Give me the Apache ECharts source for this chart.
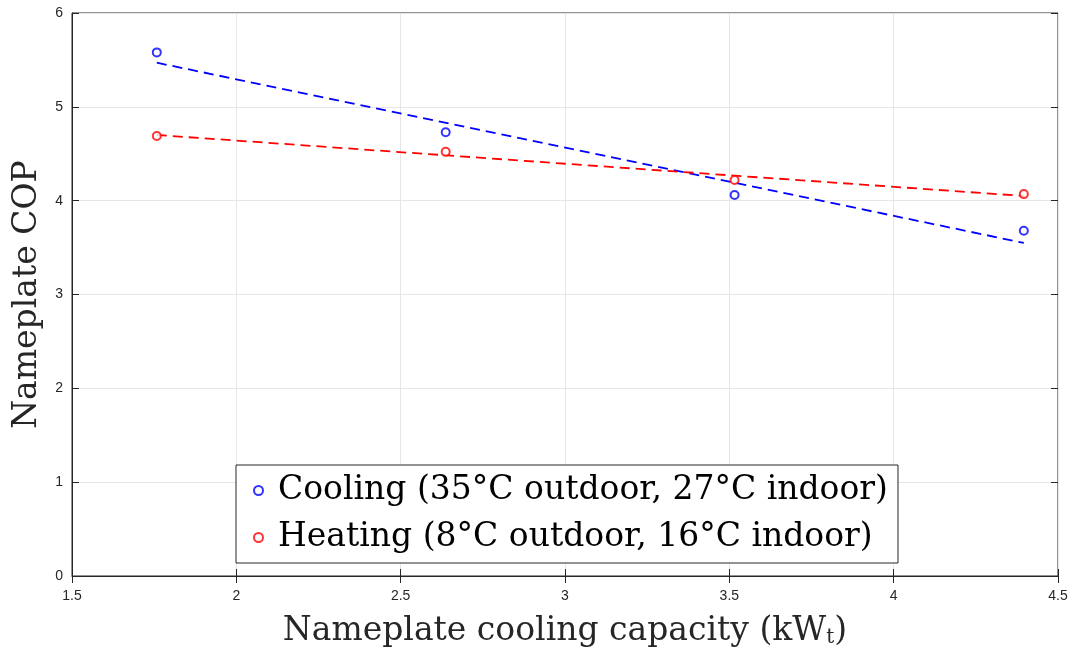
<!DOCTYPE html>
<html><head><meta charset="utf-8">
<script src="https://cdn.jsdelivr.net/npm/echarts@6/dist/echarts.min.js"></script>
<style>html,body{margin:0;padding:0;background:#fff}#c{width:1076px;height:651px}</style>
</head><body><div id="c"></div>
<script>
const capacity = [1.758, 2.637, 3.516, 4.396];
const coolingCOP = [5.58, 4.73, 4.06, 3.68];
const heatingCOP = [4.69, 4.52, 4.22, 4.07];
const fitX = [1.758, 4.396];
const coolingFit = [5.47, 3.55];
const heatingFit = [4.70, 4.05];
const xTicks = [1.5, 2, 2.5, 3, 3.5, 4, 4.5];
const yTicks = [0, 1, 2, 3, 4, 5, 6];

const pairs = (xs, ys) => xs.map((x, i) => [x, ys[i]]);
const serif = 'DejaVu Serif';
const tickFont = {fontFamily: 'Liberation Sans', fontSize: 14, color: '#262626'};
const chart = echarts.init(document.getElementById('c'));
const baseX = {type: 'value', min: xTicks[0], max: xTicks[xTicks.length - 1], interval: 0.5};
const baseY = {type: 'value', min: yTicks[0], max: yTicks[yTicks.length - 1], interval: 1};
chart.setOption({
  animation: false,
  grid: {left: 72, right: 18, top: 13, bottom: 75, show: true, borderColor: '#262626', borderWidth: 1,
         containLabel: false, outerBoundsMode: 'none'},
  legend: {
    data: ['Cooling (35°C outdoor, 27°C indoor)', 'Heating (8°C outdoor, 16°C indoor)'],
    orient: 'vertical', left: 236, top: 465,
    backgroundColor: '#fff', borderColor: '#262626', borderWidth: 1,
    padding: [9, 10, 9, 17], itemGap: 14, itemWidth: 9, itemHeight: 9,
    textStyle: {fontFamily: serif, fontSize: 33, color: '#000', padding: [0, 0, 0, 10]}
  },
  xAxis: [
    Object.assign({}, baseX, {
      position: 'bottom',
      name: 'Nameplate cooling capacity (kW{sub|t})', nameLocation: 'middle', nameGap: 38,
      nameTextStyle: {fontFamily: serif, fontSize: 33, color: '#262626', rich: {sub: {fontFamily: serif, fontSize: 20, verticalAlign: 'bottom', padding: [14, 0, 0, 0], color: '#262626'}}},
      axisLine: {show: true, lineStyle: {color: '#262626'}},
      axisTick: {show: true, inside: true, length: 7, lineStyle: {color: '#262626'}},
      axisLabel: Object.assign({margin: 13, formatter: v => String(v)}, tickFont),
      splitLine: {show: true, lineStyle: {color: '#e6e6e6'}}
    }),
    Object.assign({}, baseX, {
      position: 'top',
      axisLine: {show: false}, axisTick: {show: true, inside: true, length: 7, lineStyle: {color: '#262626'}},
      axisLabel: {show: false}, splitLine: {show: false}
    })
  ],
  yAxis: [
    Object.assign({}, baseY, {
      position: 'left',
      name: 'Nameplate COP', nameLocation: 'middle', nameGap: 24, nameRotate: 90,
      nameTextStyle: {fontFamily: serif, fontSize: 33, color: '#262626'},
      axisLine: {show: true, lineStyle: {color: '#262626'}},
      axisTick: {show: true, inside: true, length: 7, lineStyle: {color: '#262626'}},
      axisLabel: Object.assign({margin: 9}, tickFont),
      splitLine: {show: true, lineStyle: {color: '#e6e6e6'}}
    }),
    Object.assign({}, baseY, {
      position: 'right',
      axisLine: {show: false}, axisTick: {show: true, inside: true, length: 7, lineStyle: {color: '#262626'}},
      axisLabel: {show: false}, splitLine: {show: false}
    })
  ],
  series: [
    {name: 'coolfit', type: 'line', data: pairs(fitX, coolingFit), showSymbol: false, z: 3,
     lineStyle: {color: '#0000ff', width: 1.8, type: [10, 6]}},
    {name: 'heatfit', type: 'line', data: pairs(fitX, heatingFit), showSymbol: false, z: 3,
     lineStyle: {color: '#ff0000', width: 1.8, type: [10, 6]}},
    {name: 'Cooling (35°C outdoor, 27°C indoor)', type: 'scatter', data: pairs(capacity, coolingCOP),
     symbol: 'emptyCircle', symbolSize: 8, z: 4,
     itemStyle: {color: '#0000ff', borderColor: '#0000ff', borderWidth: 2}},
    {name: 'Heating (8°C outdoor, 16°C indoor)', type: 'scatter', data: pairs(capacity, heatingCOP),
     symbol: 'emptyCircle', symbolSize: 8, z: 4,
     itemStyle: {color: '#ff0000', borderColor: '#ff0000', borderWidth: 2}}
  ]
});
</script></body></html>
